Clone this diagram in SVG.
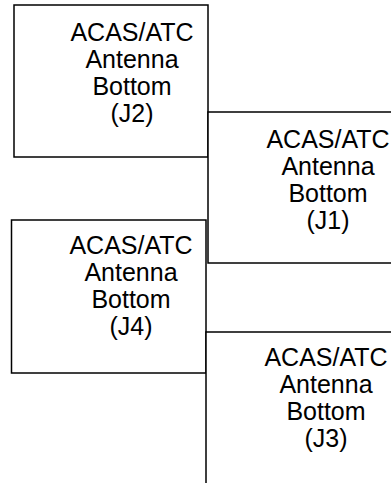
<svg xmlns="http://www.w3.org/2000/svg" width="391" height="483" viewBox="0 0 391 483">
<style>
.box{fill:#fff;stroke:#000;stroke-width:1.5}
.lbl{font-family:"Liberation Sans",Arial,sans-serif;font-size:25px;fill:#000;text-anchor:middle}
</style>
<rect width="391" height="483" fill="#fff"/>
<g id="J2">
<rect class="box" x="14" y="5" width="194" height="152"/>
<text class="lbl"><tspan x="132" y="41">ACAS/ATC</tspan><tspan x="132" y="68">Antenna</tspan><tspan x="132" y="95">Bottom</tspan><tspan x="132" y="122">(J2)</tspan></text>
</g>
<g id="J1">
<rect class="box" x="208" y="112" width="200" height="151"/>
<text class="lbl"><tspan x="328" y="148">ACAS/ATC</tspan><tspan x="328" y="175">Antenna</tspan><tspan x="328" y="202">Bottom</tspan><tspan x="328" y="229">(J1)</tspan></text>
</g>
<g id="J4">
<rect class="box" x="11.5" y="220" width="194.5" height="153"/>
<text class="lbl"><tspan x="131" y="254">ACAS/ATC</tspan><tspan x="131" y="281">Antenna</tspan><tspan x="131" y="308">Bottom</tspan><tspan x="131" y="335">(J4)</tspan></text>
</g>
<g id="J3">
<rect class="box" x="206" y="332" width="200" height="200"/>
<text class="lbl"><tspan x="326" y="366">ACAS/ATC</tspan><tspan x="326" y="393">Antenna</tspan><tspan x="326" y="420">Bottom</tspan><tspan x="326" y="447">(J3)</tspan></text>
</g>
<g id="connectors"></g>
</svg>
